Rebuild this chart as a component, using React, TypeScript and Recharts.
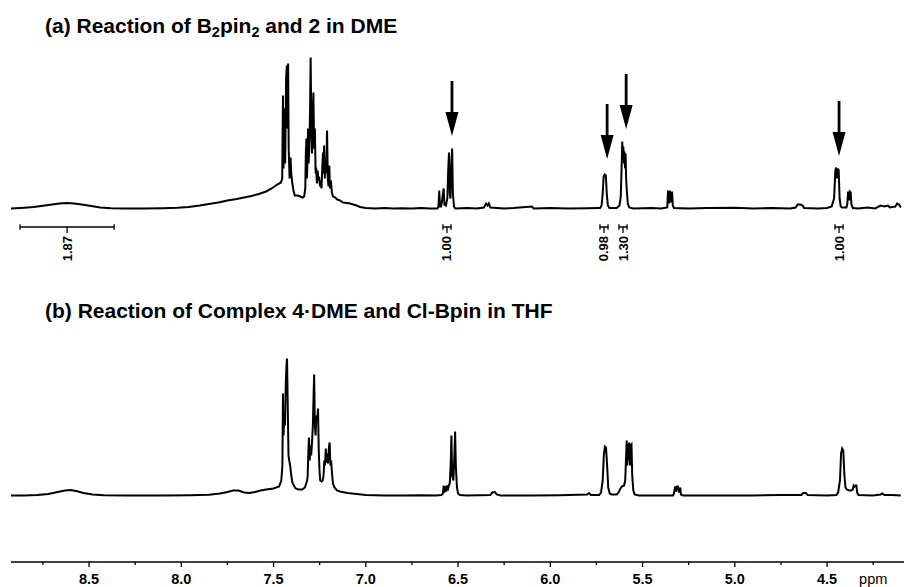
import React from 'react';
import { ComposedChart, Line, XAxis, YAxis, Scatter, ReferenceLine } from 'recharts';

// Spectrum (a): [ppm, intensity above its own baseline]
const SPEC_A: [number, number][] = [
  [8.923,0],[8.85,0.8],[8.80,1.5],[8.75,2.8],[8.71,3.8],[8.66,5],[8.62,5.5],[8.58,5],[8.53,3.8],[8.48,2.2],[8.44,1],[8.38,0.3],[8.30,0],[8.20,0],[8.10,0.3],[8.02,0.8],[7.96,1.5],[7.90,3],[7.85,4.5],[7.80,6],[7.75,8],[7.70,9.5],[7.66,11],[7.62,12.5],[7.58,14.5],[7.54,17],[7.51,20],[7.48,24],[7.46,26],
  [7.453,30],[7.449,113],[7.446,40],[7.443,60],[7.440,100],[7.437,45],[7.432,130],[7.428,143],[7.425,80],[7.421,145],[7.418,60],[7.413,30],[7.408,51],[7.404,35],[7.398,25],[7.392,18],[7.385,13],[7.370,13],[7.355,12],[7.342,11],
  [7.334,12],[7.328,20],[7.325,55],[7.322,70],[7.319,30],[7.316,50],[7.313,80],[7.310,45],[7.306,60],[7.302,100],[7.299,151],[7.295,80],[7.291,55],[7.288,90],[7.284,116],[7.280,60],[7.276,80],[7.272,35],[7.269,41],[7.265,25],[7.261,38],[7.257,28],[7.253,32],[7.248,22],[7.244,28],[7.240,20],[7.236,40],[7.232,56],[7.229,35],[7.226,63],[7.222,30],[7.218,50],[7.214,35],[7.210,78],[7.206,30],[7.202,22],[7.198,43],[7.194,20],[7.189,28],[7.184,16],[7.178,12],[7.165,11],[7.156,9],[7.140,8],[7.123,6],[7.085,5],[7.050,3],[7.031,1.5],[7.0,0.5],
  [6.95,0],[6.90,0.5],[6.85,0],[6.80,0.3],[6.75,0],[6.70,0.6],[6.65,0],[6.612,0],[6.606,2],[6.602,18],[6.598,2],[6.592,2],[6.589,5],[6.578,20],[6.574,4],[6.566,3],[6.558,10],[6.553,40],[6.549,56],[6.545,15],[6.541,10],[6.536,45],[6.532,60],[6.528,15],[6.522,2],[6.515,0],
  [6.45,0.5],[6.40,0],[6.36,1],[6.348,5],[6.340,3],[6.333,5],[6.325,1],[6.25,0],[6.20,0.5],[6.10,2],[6.09,0],[6.00,0.5],[5.90,0],[5.80,0.3],[5.74,0.5],
  [5.730,0.5],[5.722,3],[5.716,15],[5.711,32],[5.705,34],[5.699,33],[5.694,15],[5.688,3],[5.680,0.5],[5.640,0.5],[5.625,3],[5.618,12],[5.613,45],[5.610,67],[5.607,50],[5.604,62],[5.601,45],[5.598,57],[5.595,40],[5.592,55],[5.589,30],[5.586,20],[5.580,5],[5.572,1],[5.55,0],
  [5.45,0.5],[5.40,0],[5.366,1],[5.362,18],[5.357,5],[5.352,18],[5.347,6],[5.340,17],[5.336,3],[5.330,0.5],[5.25,0],[5.15,0.5],[5.00,0.8],[4.90,0],[4.80,0.5],[4.70,0],[4.670,1],[4.660,4],[4.645,4],[4.632,3],[4.625,0.5],[4.55,0],[4.50,0.5],
  [4.475,2],[4.462,10],[4.455,38],[4.451,41],[4.446,30],[4.441,40],[4.437,38],[4.432,10],[4.426,2],[4.418,1],[4.405,1],[4.395,1],[4.390,5],[4.386,17],[4.381,8],[4.377,17],[4.372,16],[4.368,4],[4.360,0.5],[4.33,0],[4.28,1],[4.24,0],[4.21,3],[4.19,2],[4.17,3],[4.16,1],[4.13,2],[4.12,5],[4.11,4],[4.10,1],
];

// Spectrum (b)
const SPEC_B: [number, number][] = [
  [8.923,0],[8.85,0],[8.78,0.5],[8.72,1.5],[8.67,3.5],[8.63,5],[8.60,5.5],[8.57,4.5],[8.53,2.5],[8.48,1],[8.42,0.3],[8.30,0],[8.10,0],[7.95,0.3],[7.85,0.8],[7.79,2],[7.75,3.5],[7.72,5],[7.69,5],[7.66,3],[7.63,2.5],[7.60,3.5],[7.57,5],[7.54,6],[7.50,7],[7.47,9],[7.458,15],
  [7.452,30],[7.449,102],[7.446,60],[7.442,80],[7.438,70],[7.434,110],[7.430,130],[7.427,137],[7.423,90],[7.419,40],[7.415,35],[7.410,30],[7.404,20],[7.398,13],[7.390,10],[7.380,7],[7.365,6],[7.345,6],[7.330,8],[7.318,15],
  [7.315,20],[7.311,45],[7.308,58],[7.304,35],[7.300,50],[7.296,40],[7.291,55],[7.287,70],[7.283,100],[7.280,121],[7.276,70],[7.272,60],[7.268,80],[7.263,75],[7.259,87],[7.255,45],[7.251,25],[7.247,15],[7.240,14],[7.234,15],[7.229,20],[7.225,35],[7.221,30],[7.217,47],[7.213,33],[7.209,42],[7.205,32],[7.200,48],[7.196,53],[7.192,30],[7.188,35],[7.183,22],[7.178,12],[7.170,8],[7.156,5],[7.140,4],[7.10,2.5],[7.05,1.5],[7.00,0.5],
  [6.90,0],[6.80,0],[6.70,0.3],[6.62,0],[6.59,0.5],[6.582,2],[6.578,10],[6.574,3],[6.569,9],[6.565,4],[6.560,10],[6.556,5],[6.550,10],[6.545,12],[6.540,30],[6.536,60],[6.532,20],[6.525,15],[6.520,40],[6.516,64],[6.512,30],[6.506,8],[6.500,2],[6.49,0.5],[6.45,0],
  [6.325,0.5],[6.315,3],[6.300,3.5],[6.290,1],[6.27,0],[6.10,0],[5.95,0.3],[5.80,1],[5.79,2.5],[5.78,0.5],
  [5.735,0.5],[5.725,3],[5.716,15],[5.710,40],[5.704,49],[5.698,48],[5.692,30],[5.686,8],[5.678,2],[5.668,1],[5.640,1],[5.630,3],[5.620,7],[5.612,9],[5.600,10],[5.594,15],[5.589,40],[5.586,55],[5.583,30],[5.579,52],[5.576,35],[5.572,53],[5.568,30],[5.564,50],[5.560,51],[5.556,20],[5.550,5],[5.543,1],[5.52,0],
  [5.40,0],[5.335,0],[5.330,2],[5.323,9],[5.318,4],[5.313,9],[5.308,9],[5.302,3],[5.296,8],[5.292,1],[5.28,0],[5.10,0],[4.90,0],[4.75,0.5],[4.64,0.5],[4.63,2.5],[4.615,2.5],[4.605,0.5],[4.50,0],
  [4.45,0.5],[4.440,3],[4.430,15],[4.424,42],[4.418,47],[4.412,45],[4.406,20],[4.400,8],[4.393,6],[4.380,5],[4.370,5],[4.360,6],[4.356,10],[4.351,9],[4.346,10],[4.341,10],[4.337,3],[4.33,0.5],[4.25,0],[4.21,1],[4.20,2],[4.19,0.5],[4.15,0.5],[4.10,0],
];

// Arrows over spectrum (a): ppm and tip height above baseline (a)
const ARROW_PPM = [6.533, 5.692, 5.589, 4.435];
const ARROW_TIP = [72.5, 49.5, 79.5, 52.5];

// Integrals of spectrum (a)
const INTEGRAL_FROM = [8.874, 6.582, 5.731, 5.628, 4.457];
const INTEGRAL_TO = [8.364, 6.538, 5.687, 5.584, 4.413];
const INTEGRAL_LABELS = ['1.87', '1.00', '0.98', '1.30', '1.00'];

const MAJOR_TICKS = [8.5, 8.0, 7.5, 7.0, 6.5, 6.0, 5.5, 5.0, 4.5];
const MINOR_TICKS = [8.75, 8.25, 7.75, 7.25, 6.75, 6.25, 5.75, 5.25, 4.75, 4.25];
const UNIT_TICK = 4.25;
const UNIT_LABEL = 'ppm';

const TITLE_A = ['(a) Reaction of B', '2', 'pin', '2', ' and 2 in DME'];
const TITLE_B = '(b) Reaction of Complex 4\u00B7DME and Cl-Bpin in THF';

// layout constants
const W = 904;
const H = 587;
const TOP = 40;
const AXIS_H = 25;
const Y_SPAN = H - TOP - AXIS_H; // 1 unit = 1px
const OFFSET_A = 353.5;
const OFFSET_B = 66.5;
const BAR_LEVEL = 335;
const FONT = '"Liberation Sans", Arial, Helvetica, sans-serif';

const rowsA = SPEC_A.map(([ppm, h]) => ({ ppm, v: OFFSET_A + h }));
const rowsB = SPEC_B.map(([ppm, h]) => ({ ppm, v: OFFSET_B + h }));
const arrowRows = ARROW_PPM.map((ppm, i) => ({ ppm, v: OFFSET_A + ARROW_TIP[i] }));
const integralRows = INTEGRAL_FROM.map((f, i) => ({
  ppm: (f + INTEGRAL_TO[i]) / 2,
  v: BAR_LEVEL,
  label: INTEGRAL_LABELS[i],
}));
const ALL_TICKS = [...MAJOR_TICKS, ...MINOR_TICKS].sort((a, b) => b - a);

const ArrowShape = (p: any) => {
  const { cx, cy } = p;
  return (
    <g>
      <line x1={cx} y1={cy - 55} x2={cx} y2={cy - 20} stroke="#000" strokeWidth={2.8} />
      <polygon points={`${cx - 6.5},${cy - 24} ${cx + 6.5},${cy - 24} ${cx},${cy}`} fill="#000" />
    </g>
  );
};

const IntegralLabel = (p: any) => {
  const { cx, cy } = p;
  const label = (p.payload && p.payload.label) || p.label;
  const ty = cy + 9;
  return (
    <g>
      <line x1={cx} y1={cy} x2={cx} y2={cy + 6} stroke="#000" strokeWidth={1.3} />
      <text
        x={cx}
        y={ty}
        transform={`rotate(-90 ${cx} ${ty})`}
        textAnchor="end"
        dominantBaseline="central"
        fontSize={13}
        fontWeight="bold"
        fontFamily={FONT}
        fill="#000"
      >
        {label}
      </text>
    </g>
  );
};

const AxisTick = (p: any) => {
  const { x, y, payload } = p;
  const v = payload.value;
  const major = MAJOR_TICKS.some((m) => Math.abs(m - v) < 1e-6);
  return (
    <g>
      <line x1={x} y1={y} x2={x} y2={y + (major ? 5 : 3)} stroke="#000" strokeWidth={1.3} />
      {major && (
        <text x={x} y={y + 22} textAnchor="middle" fontSize={14.5} fontWeight="bold" fontFamily={FONT} fill="#000">
          {v.toFixed(1)}
        </text>
      )}
      {Math.abs(v - UNIT_TICK) < 1e-6 && (
        <text x={x} y={y + 22} textAnchor="middle" fontSize={14.5} fontFamily={FONT} fill="#000">
          {UNIT_LABEL}
        </text>
      )}
    </g>
  );
};

export default function App() {
  return (
    <div style={{ position: 'absolute', left: 0, top: 0, width: W, height: H, background: '#fff' }}>
      <ComposedChart width={W} height={H} margin={{ top: TOP, right: 0, bottom: 0, left: 11 }}>
        <XAxis
          type="number"
          dataKey="ppm"
          domain={[4.083, 8.923]}
          reversed
          allowDataOverflow
          ticks={ALL_TICKS}
          interval={0}
          tick={<AxisTick />}
          tickLine={false}
          tickSize={0}
          tickMargin={0}
          height={AXIS_H}
          axisLine={{ stroke: '#000', strokeWidth: 1.6 }}
        />
        <YAxis type="number" dataKey="v" domain={[0, Y_SPAN]} hide allowDataOverflow />
        <Line data={rowsA} dataKey="v" type="linear" stroke="#000" strokeWidth={2} dot={false} isAnimationActive={false} />
        <Line data={rowsB} dataKey="v" type="linear" stroke="#000" strokeWidth={2} dot={false} isAnimationActive={false} />
        {INTEGRAL_FROM.map((f, i) => (
          <ReferenceLine key={`bar${i}`} segment={[{ x: f, y: BAR_LEVEL }, { x: INTEGRAL_TO[i], y: BAR_LEVEL }]} stroke="#000" strokeWidth={1.5} ifOverflow="visible" />
        ))}
        {INTEGRAL_FROM.map((f, i) => (
          <ReferenceLine key={`capl${i}`} segment={[{ x: f, y: BAR_LEVEL - 2.7 }, { x: f, y: BAR_LEVEL + 2.7 }]} stroke="#000" strokeWidth={1.3} ifOverflow="visible" />
        ))}
        {INTEGRAL_TO.map((t, i) => (
          <ReferenceLine key={`capr${i}`} segment={[{ x: t, y: BAR_LEVEL - 2.7 }, { x: t, y: BAR_LEVEL + 2.7 }]} stroke="#000" strokeWidth={1.3} ifOverflow="visible" />
        ))}
        <Scatter data={arrowRows} shape={ArrowShape} isAnimationActive={false} />
        <Scatter data={integralRows} shape={IntegralLabel} isAnimationActive={false} />
      </ComposedChart>
      <svg width={W} height={H} style={{ position: 'absolute', left: 0, top: 0, pointerEvents: 'none' }}>
        <text x={45} y={33} fontSize={21} fontWeight="bold" fontFamily={FONT} fill="#000">
          {TITLE_A[0]}
          <tspan fontSize={14.5} dy={4}>{TITLE_A[1]}</tspan>
          <tspan dy={-4}>{TITLE_A[2]}</tspan>
          <tspan fontSize={14.5} dy={4}>{TITLE_A[3]}</tspan>
          <tspan dy={-4}>{TITLE_A[4]}</tspan>
        </text>
        <text x={45} y={318} fontSize={21} fontWeight="bold" fontFamily={FONT} fill="#000">
          {TITLE_B}
        </text>
      </svg>
    </div>
  );
}
